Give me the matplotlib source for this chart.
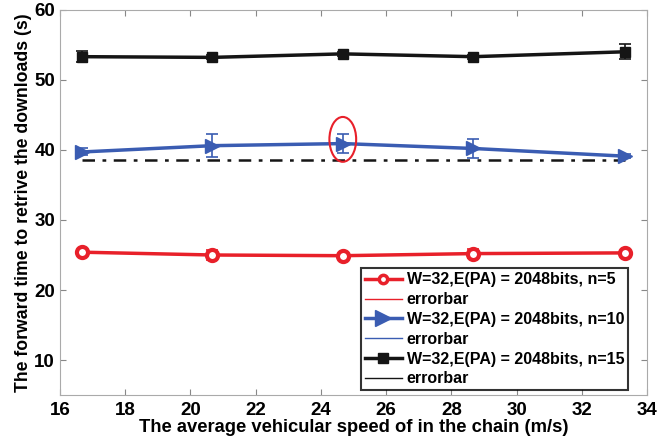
import matplotlib.pyplot as plt
from matplotlib.lines import Line2D
from matplotlib.patches import Ellipse

plt.rcParams['font.family'] = ['Liberation Sans', 'DejaVu Sans']
plt.rcParams['font.weight'] = 'bold'

# 数据
speed = [16.67, 20.67, 24.67, 28.67, 33.33]
t_n5 = [25.4, 25.0, 24.9, 25.2, 25.3]
err_n5 = [0.3, 0.7, 0.3, 0.7, 0.3]
t_n10 = [39.7, 40.6, 40.9, 40.2, 39.1]
err_n10 = [0.5, 1.6, 1.4, 1.3, 0.3]
t_n15 = [53.3, 53.2, 53.7, 53.3, 54.0]
err_n15 = [0.8, 0.3, 0.3, 0.3, 1.1]
baseline = 38.5
labels = ['W=32,E(PA) = 2048bits, n=5',
          'W=32,E(PA) = 2048bits, n=10',
          'W=32,E(PA) = 2048bits, n=15']

red = '#e8202a'
blue = '#3a5cb2'
black = '#151515'

fig = plt.figure(figsize=(6.59, 4.42), dpi=100)
ax = fig.add_axes([0.091, 0.106, 0.891, 0.872])

# 误差棒
for y, e, c in [(t_n5, err_n5, red), (t_n10, err_n10, blue), (t_n15, err_n15, black)]:
    ax.errorbar(speed, y, yerr=e, fmt='none', ecolor=c, elinewidth=1.2, capsize=4, capthick=1.2, zorder=2)

ax.plot(speed, t_n5, color=red, lw=2.5, marker='o', ms=8, mfc='white', mec=red, mew=3, zorder=3)
ax.plot(speed, t_n10, color=blue, lw=2.5, marker='>', ms=10, mfc=blue, mec=blue, zorder=3)
ax.plot(speed, t_n15, color=black, lw=2.5, marker='s', ms=7, mfc=black, mec=black, zorder=3)

# 点划线
ax.plot([speed[0], speed[-1]], [baseline, baseline], color=black, lw=1.8, dashes=[5, 3, 1.5, 3], zorder=1)

# 红色椭圆标注
ax.add_patch(Ellipse((speed[2], 41.5), 0.82, 6.4, fill=False, edgecolor=red, lw=1.5, zorder=4))

ax.set_xlim(16, 34)
ax.set_ylim(5, 60)
ax.set_xticks(range(16, 35, 2))
ax.set_yticks(range(10, 61, 10))
ax.tick_params(direction='in', top=True, right=True, labelsize=13.5, color='#888888', length=4)
ax.tick_params(axis='x', pad=5)
for sp in ax.spines.values():
    sp.set_color('#aaaaaa')
ax.set_xlabel('The average vehicular speed of in the chain (m/s)', fontsize=13.2, fontweight='bold', labelpad=0)
ax.set_ylabel('The forward time to retrive the downloads (s)', fontsize=12.7, fontweight='bold', labelpad=2)

handles = [
    Line2D([], [], color=red, lw=2.5, marker='o', ms=6, mfc='white', mec=red, mew=2.5),
    Line2D([], [], color=red, lw=1),
    Line2D([], [], color=blue, lw=2.5, marker='>', ms=11, mfc=blue, mec=blue),
    Line2D([], [], color=blue, lw=1),
    Line2D([], [], color=black, lw=2.5, marker='s', ms=7, mfc=black, mec=black),
    Line2D([], [], color=black, lw=1),
]
leg_labels = [labels[0], 'errorbar', labels[1], 'errorbar', labels[2], 'errorbar']
leg = ax.legend(handles, leg_labels, loc='lower right', bbox_to_anchor=(0.976, 0.0), fontsize=11.5,
                frameon=True, fancybox=False, edgecolor='black', handlelength=2.3,
                labelspacing=0.3, borderpad=0.25, handletextpad=0.3, borderaxespad=0.3)
leg.get_frame().set_linewidth(1.5)
for t in leg.get_texts():
    t.set_fontweight('bold')

plt.savefig('out.png', dpi=100)
